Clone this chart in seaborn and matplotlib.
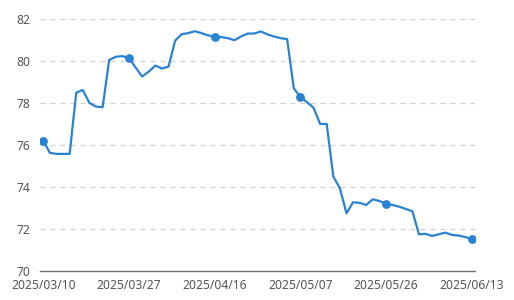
import matplotlib
matplotlib.use("Agg")
import matplotlib.pyplot as plt
import seaborn as sns
import pandas as pd
import numpy as np

# Trading-day labels (Chinese market calendar, holidays removed)
holidays = ["2025-04-04", "2025-05-01", "2025-05-02", "2025-06-02"]
dates = [d.strftime("%Y/%m/%d") for d in pd.bdate_range("2025-03-10", "2025-06-13")
         if d.strftime("%Y-%m-%d") not in holidays]

values = [
    76.20, 75.62, 75.57, 75.57, 75.57, 78.50, 78.62, 78.00, 77.83, 77.80,
    80.06, 80.21, 80.24, 80.15, 79.70, 79.27, 79.50, 79.79, 79.65, 79.74,
    80.98, 81.29, 81.34, 81.43, 81.34, 81.23, 81.17, 81.15, 81.10, 81.00,
    81.18, 81.32, 81.32, 81.42, 81.28, 81.18, 81.10, 81.05, 78.71, 78.28,
    78.04, 77.78, 77.00, 77.00, 74.49, 73.93, 72.73, 73.26, 73.23, 73.13,
    73.40, 73.32, 73.18, 73.13, 73.05, 72.94, 72.83, 71.73, 71.75, 71.65,
    71.73, 71.81, 71.70, 71.67, 71.60, 71.50,
]
dates = dates[:len(values)]
tick_idx = [0, 13, 26, 39, 52, 65]
y_ticks = [70, 72, 74, 76, 78, 80, 82]

df = pd.DataFrame({"idx": np.arange(len(values)), "value": values})

sns.set_style("white")
plt.rcParams["font.family"] = ["Noto Sans", "DejaVu Sans"]

fig = plt.figure(figsize=(5.14, 3.0), dpi=100)
ax = fig.add_axes([40/514, 29.5/300, 435/514, 251.2/300])

color = "#2a82d4"
sns.lineplot(data=df, x="idx", y="value", ax=ax, color=color, linewidth=1.6)
mk = df[df["idx"].isin(tick_idx)]
sns.scatterplot(data=mk, x="idx", y="value", ax=ax, color=color, s=40,
                edgecolor=color, linewidth=0, zorder=5)

ax.set_xlim(-0.5, len(values) - 0.5)
ax.set_ylim(70, 82)
ax.set_xticks(tick_idx)
ax.set_xticklabels([dates[i] for i in tick_idx])
ax.set_yticks(y_ticks)
ax.set_xlabel("")
ax.set_ylabel("")

for y in y_ticks[1:]:
    ax.axhline(y, color="#d0d0d0", linewidth=0.9, linestyle=(0, (4, 4)), zorder=0)

for s in ["top", "right", "left"]:
    ax.spines[s].set_visible(False)
ax.spines["bottom"].set_color("#6e7079")
ax.spines["bottom"].set_linewidth(1.0)
ax.tick_params(axis="x", colors="#6e7079", length=4, width=1.0, direction="out",
               labelsize=8.7, labelcolor="#555555", pad=2)
ax.tick_params(axis="y", length=0, labelsize=8.7, labelcolor="#555555", pad=7)

fig.savefig("out.png", dpi=100)
